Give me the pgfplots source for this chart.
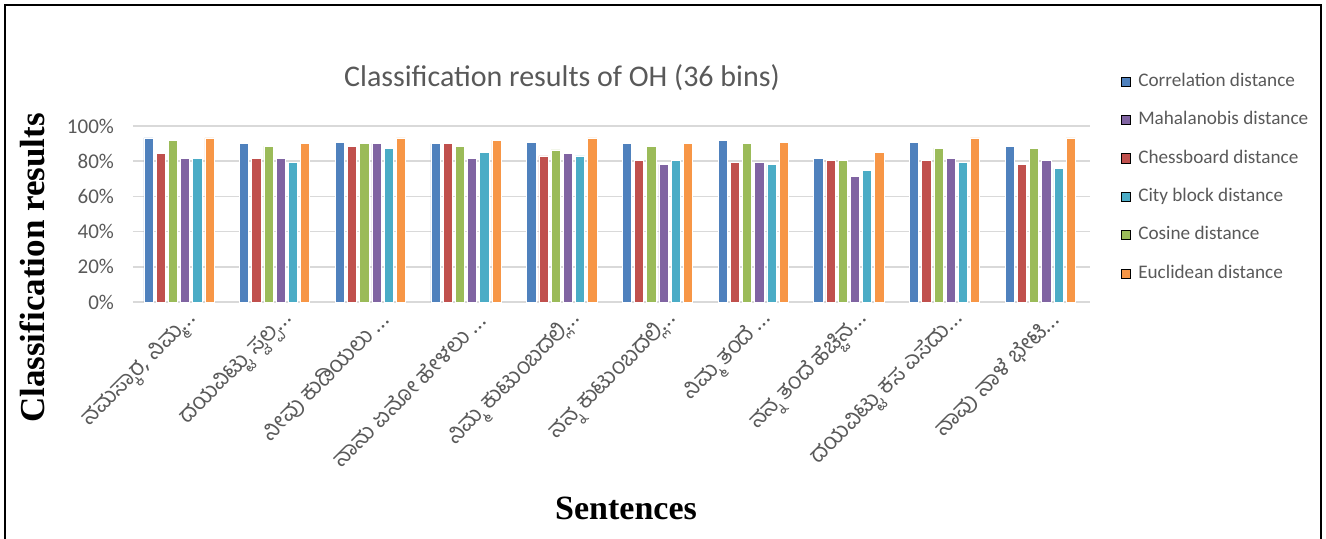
\documentclass[border=0pt]{standalone}
\usepackage{pgfplots}
\pgfplotsset{compat=1.18}
\usepackage{pgfplotstable}
\usepackage{fontspec}
\setmainfont{Carlito}
\newfontfamily\kn[Script=Kannada]{Hind Mysuru}
\newfontfamily\tnr{Liberation Serif}

\definecolor{cCorr}{HTML}{4F81BD}
\definecolor{cChess}{HTML}{C0504D}
\definecolor{cCos}{HTML}{9BBB59}
\definecolor{cMaha}{HTML}{8064A2}
\definecolor{cCity}{HTML}{4BACC6}
\definecolor{cEucl}{HTML}{F79646}
\definecolor{txtgray}{HTML}{595959}
\definecolor{gridgray}{HTML}{D9D9D9}

% Classification accuracy (%) per sentence and distance measure
\pgfplotstableread{
x  corr  chess  cos   maha  city  eucl
0  93.2  84.3   92.0  81.8  81.8  93.2
1  90.0  81.8   88.6  81.8  79.5  90.0
2  90.9  88.6   90.0  90.0  87.5  93.2
3  90.0  90.0   88.6  81.8  85.2  92.0
4  90.9  83.0   86.4  84.3  83.0  93.2
5  90.0  80.5   88.6  78.2  80.5  90.0
6  92.0  79.4   90.0  79.4  78.2  90.9
7  81.8  80.5   80.5  71.2  74.8  85.2
8  90.9  80.5   87.5  81.8  79.4  93.2
9  88.6  78.2   87.5  80.5  75.9  93.2
}\results

\begin{document}
\begin{tikzpicture}
\useasboundingbox (-66.5pt,-118pt) rectangle (596.5pt,151pt);
\clip (-66.5pt,-118pt) rectangle (596.5pt,151pt);
\draw[black, line width=1.25pt] (-64pt,-130pt) rectangle (594pt,148.5pt);

\begin{axis}[
  at={(0pt,0pt)}, anchor=south west,
  scale only axis, width=478.5pt, height=88pt,
  xmin=-0.5, xmax=9.5, ymin=0, ymax=100,
  axis line style={draw=none},
  tick style={draw=none},
  ymajorgrids, grid style={gridgray, line width=0.75pt},
  ytick={0,20,40,60,80,100},
  yticklabels={0\%,20\%,40\%,60\%,80\%,100\%},
  yticklabel style={font=\fontsize{10.5}{12}\selectfont, text=txtgray, xshift=-6pt},
  xtick={0,...,9},
  xticklabels={
    {ನಮಸ್ಕಾರ, ನಿಮ್ಮ…},
    {ದಯವಿಟ್ಟು ಸ್ವಲ್ಪ…},
    {ನೀವು ಕುಡಿಯಲು …},
    {ನಾನು ಏನೋ ಹೇಳಲು …},
    {ನಿಮ್ಮ ಕುಟುಂಬದಲ್ಲಿ…},
    {ನನ್ನ ಕುಟುಂಬದಲ್ಲಿ…},
    {ನಿಮ್ಮ ತಂದೆ …},
    {ನನ್ನ ತಂದೆ ಹೆಚ್ಚಿನ…},
    {ದಯವಿಟ್ಟು ಕಸ ಎಸೆದು…},
    {ನಾವು ನಾಳೆ ಭೇಟಿ…}},
  xticklabel style={rotate=45, anchor=east, text=txtgray,
    font=\kn\fontsize{11.5}{12}\selectfont, xshift=3pt, yshift=-10pt},
  legend style={at={(1.026,1.325)}, anchor=north west, draw=none,
    fill=none, row sep=10.9pt, column sep=3.5pt,
    nodes={inner sep=0pt, text height=6.5pt, text depth=1.8pt,
      text=txtgray, font=\fontsize{9.6}{11}\selectfont}},
  legend cell align=left,
  legend image code/.code={\fill[#1] (0pt,-2.3pt) rectangle (4.6pt,2.3pt);},
]
% legend in the order of the key
\addlegendimage{fill=cCorr}\addlegendentry{Correlation distance}
\addlegendimage{fill=cMaha}\addlegendentry{Mahalanobis distance}
\addlegendimage{fill=cChess}\addlegendentry{Chessboard distance}
\addlegendimage{fill=cCity}\addlegendentry{City block distance}
\addlegendimage{fill=cCos}\addlegendentry{Cosine distance}
\addlegendimage{fill=cEucl}\addlegendentry{Euclidean distance}

% bars, left to right within each group
\addplot[ybar, forget plot, bar width=0.096, bar shift=-0.339, fill=cCorr, draw=white, line width=0.3pt] table[x=x, y=corr] {\results};
\addplot[ybar, forget plot, bar width=0.096, bar shift=-0.211, fill=cChess, draw=white, line width=0.3pt] table[x=x, y=chess] {\results};
\addplot[ybar, forget plot, bar width=0.096, bar shift=-0.084, fill=cCos, draw=white, line width=0.3pt] table[x=x, y=cos] {\results};
\addplot[ybar, forget plot, bar width=0.096, bar shift=0.044, fill=cMaha, draw=white, line width=0.3pt] table[x=x, y=maha] {\results};
\addplot[ybar, forget plot, bar width=0.096, bar shift=0.171, fill=cCity, draw=white, line width=0.3pt] table[x=x, y=city] {\results};
\addplot[ybar, forget plot, bar width=0.096, bar shift=0.299, fill=cEucl, draw=white, line width=0.3pt] table[x=x, y=eucl] {\results};
\end{axis}

\node[text=txtgray, font=\fontsize{15}{18}\selectfont] at (214.5pt,112pt) {Classification results of OH (36 bins)};
\node[rotate=90, font=\tnr\bfseries\fontsize{17.5}{20}\selectfont] at (-50.5pt,17pt) {Classification results};
\node[font=\tnr\bfseries\fontsize{17}{20}\selectfont] at (246.5pt,-103pt) {Sentences};
\end{tikzpicture}
\end{document}
